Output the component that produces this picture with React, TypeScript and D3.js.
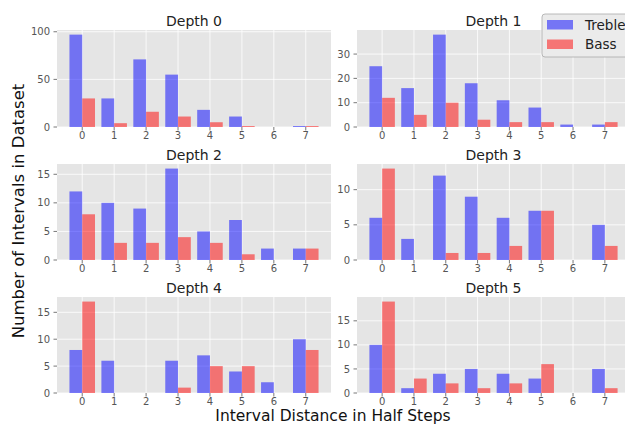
import { useEffect, useRef } from 'react'
import * as d3 from 'd3'

// interval distance in half steps
const intervals = [0, 1, 2, 3, 4, 5, 6, 7]

const depthTitles = ['Depth 0', 'Depth 1', 'Depth 2', 'Depth 3', 'Depth 4', 'Depth 5']

const trebleCounts = [
  [97, 30, 71, 55, 18, 11, 0, 1],
  [25, 16, 38, 18, 11, 8, 1, 1],
  [12, 10, 9, 16, 5, 7, 2, 2],
  [6, 3, 12, 9, 6, 7, 0, 5],
  [8, 6, 0, 6, 7, 4, 2, 10],
  [10, 1, 4, 5, 4, 3, 0, 5],
]

const bassCounts = [
  [30, 4, 16, 11, 5, 1, 0, 1],
  [12, 5, 10, 3, 2, 2, 0, 2],
  [8, 3, 3, 4, 3, 1, 0, 2],
  [13, 0, 1, 1, 2, 7, 0, 2],
  [17, 0, 0, 1, 5, 5, 0, 8],
  [19, 3, 2, 1, 2, 6, 0, 1],
]

const yTicks = [
  [0, 50, 100],
  [0, 10, 20, 30],
  [0, 5, 10, 15],
  [0, 5, 10],
  [0, 5, 10, 15],
  [0, 5, 10, 15],
]

const seriesNames = ['Treble', 'Bass']

const FONT = 'DejaVu Sans, sans-serif'

function App() {
  const svgRef = useRef(null)

  useEffect(() => {
    if (!svgRef.current) return
    d3.select(svgRef.current).selectAll('*').remove()

    const svg = d3.select(svgRef.current)

    const cols = [
      [57, 331],
      [357, 630],
    ]
    const rows = [
      [30, 127],
      [164, 260],
      [297, 393],
    ]
    const barW = 0.4
    const colors = ['#0000ff', '#ff0000']

    depthTitles.forEach((title, k) => {
      const [x0, x1] = cols[k % 2]
      const [top, bottom] = rows[Math.floor(k / 2)]
      const treble = trebleCounts[k]
      const bass = bassCounts[k]
      const maxVal = d3.max([...treble, ...bass]) || 1

      const x = d3.scaleLinear().domain([-0.79, 7.79]).range([x0, x1])
      const y = d3.scaleLinear().domain([0, maxVal * 1.05]).range([bottom, top])

      const g = svg.append('g')

      g.append('rect')
        .attr('x', x0)
        .attr('y', top)
        .attr('width', x1 - x0)
        .attr('height', bottom - top)
        .attr('fill', '#e5e5e5')

      // grid
      g.selectAll('.gx')
        .data(intervals)
        .enter()
        .append('line')
        .attr('x1', (d) => x(d))
        .attr('x2', (d) => x(d))
        .attr('y1', top)
        .attr('y2', bottom)
        .attr('stroke', '#fff')
        .attr('stroke-width', 0.8)

      g.selectAll('.gy')
        .data(yTicks[k])
        .enter()
        .append('line')
        .attr('x1', x0)
        .attr('x2', x1)
        .attr('y1', (d) => y(d))
        .attr('y2', (d) => y(d))
        .attr('stroke', '#fff')
        .attr('stroke-width', 0.8)

      // bars
      ;[treble, bass].forEach((vals, s) => {
        g.selectAll(`.bar-${s}`)
          .data(vals)
          .enter()
          .append('rect')
          .attr('x', (d, i) => x(intervals[i] + (s === 0 ? -barW : 0)))
          .attr('y', (d) => y(d))
          .attr('width', x(barW) - x(0))
          .attr('height', (d) => y(0) - y(d))
          .attr('fill', colors[s])
          .attr('fill-opacity', 0.5)
      })

      // x ticks
      intervals.forEach((d) => {
        g.append('line')
          .attr('x1', x(d))
          .attr('x2', x(d))
          .attr('y1', bottom)
          .attr('y2', bottom + 3.5)
          .attr('stroke', '#555')
          .attr('stroke-width', 0.8)
        g.append('text')
          .attr('x', x(d))
          .attr('y', bottom + 4.5)
          .attr('dy', '0.76em')
          .attr('text-anchor', 'middle')
          .attr('font-size', 10)
          .attr('font-family', FONT)
          .attr('fill', '#555')
          .text(d)
      })

      // y ticks
      yTicks[k].forEach((d) => {
        g.append('line')
          .attr('x1', x0 - 3.5)
          .attr('x2', x0)
          .attr('y1', y(d))
          .attr('y2', y(d))
          .attr('stroke', '#555')
          .attr('stroke-width', 0.8)
        g.append('text')
          .attr('x', x0 - 7)
          .attr('y', y(d))
          .attr('dy', '0.36em')
          .attr('text-anchor', 'end')
          .attr('font-size', 10)
          .attr('font-family', FONT)
          .attr('fill', '#555')
          .text(d)
      })

      g.append('text')
        .attr('x', (x0 + x1) / 2)
        .attr('y', top - 4.5)
        .attr('text-anchor', 'middle')
        .attr('font-size', 14)
        .attr('font-family', FONT)
        .attr('fill', '#222')
        .text(title)
    })

    // axis labels
    svg.append('text')
      .attr('x', 333)
      .attr('y', 421.3)
      .attr('text-anchor', 'middle')
      .attr('font-size', 15.5)
      .attr('font-family', FONT)
      .attr('fill', '#111')
      .text('Interval Distance in Half Steps')

    svg.append('text')
      .attr('transform', 'translate(24,211) rotate(-90)')
      .attr('text-anchor', 'middle')
      .attr('font-size', 16.5)
      .attr('font-family', FONT)
      .attr('fill', '#111')
      .text('Number of Intervals in Dataset')

    // legend
    const legend = svg.append('g').attr('transform', 'translate(542,14)')
    legend.append('rect')
      .attr('width', 100)
      .attr('height', 43)
      .attr('rx', 3)
      .attr('fill', '#ebebeb')
      .attr('stroke', '#aaa')
      .attr('stroke-width', 0.8)
    seriesNames.forEach((name, i) => {
      const row = legend.append('g').attr('transform', `translate(0, ${i * 19.5})`)
      row.append('rect')
        .attr('x', 5)
        .attr('y', 6)
        .attr('width', 26)
        .attr('height', 9.5)
        .attr('fill', colors[i])
        .attr('fill-opacity', 0.5)
      row.append('text')
        .attr('x', 43)
        .attr('y', 15.5)
        .attr('font-size', 13.5)
        .attr('font-family', FONT)
        .attr('fill', '#222')
        .text(name)
    })
  }, [])

  return (
    <svg
      ref={svgRef}
      width={625}
      height={425}
      style={{ position: 'absolute', left: 0, top: 0, background: '#fff' }}
    ></svg>
  )
}

export default App
